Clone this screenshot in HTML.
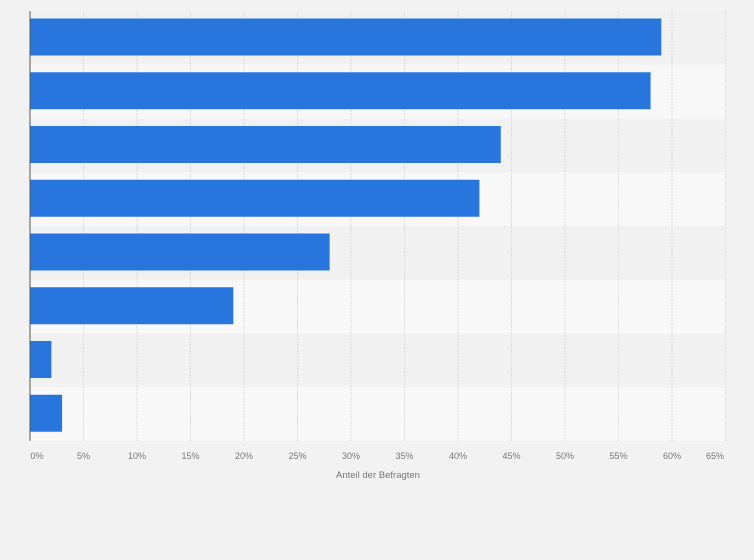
<!DOCTYPE html>
<html><head><meta charset="utf-8"><style>
html,body{margin:0;padding:0;background:#f2f2f2;}
svg{display:block;font-family:"Liberation Sans",sans-serif;}
</style></head><body>
<svg id="chart" width="754" height="560" viewBox="0 0 754 560" xmlns="http://www.w3.org/2000/svg">
<rect x="0" y="0" width="754" height="560" fill="#f2f2f2"/>
<g id="bands"></g><g id="grid"></g><g id="bars"></g><g id="ticks"></g>
<line x1="30" y1="11" x2="30" y2="441" stroke="#555" stroke-width="1"/>
<text x="378" y="478" font-size="9.5" fill="#777" text-anchor="middle">Anteil der Befragten</text>
</svg>
<script>
const categories = ["c1","c2","c3","c4","c5","c6","c7","c8"];
const values = [59, 58, 44, 42, 28, 19, 2, 3];
const tickValues = [0,5,10,15,20,25,30,35,40,45,50,55,60,65];
const tickLabels = ["0%","5%","10%","15%","20%","25%","30%","35%","40%","45%","50%","55%","60%","65%"];
const NS="http://www.w3.org/2000/svg";
const x0=30, pxPer=10.7, plotTop=11, rowH=53.75, barH=37, barOff=7.5;
const xs=v=>x0+v*pxPer;
const ys=i=>plotTop+i*rowH;
function mk(tag,attrs,parent){const e=document.createElementNS(NS,tag);for(const k in attrs)e.setAttribute(k,attrs[k]);document.getElementById(parent).appendChild(e);return e;}
categories.forEach((c,i)=>{
  const b=mk('rect',{x:30,y:ys(i),width:xs(65)-30,height:rowH,fill:i%2?'#f8f8f8':'#f1f1f1'},'bands');
  
  
});
tickValues.forEach((t,i)=>{
  if(t>0){
    const g=mk('line',{x1:xs(t),y1:plotTop,x2:xs(t),y2:441,stroke:'#dcdcdc','stroke-width':1,'stroke-dasharray':'2,1'},'grid');
    
    
  }
  let cx=xs(t); if(t===0) cx=37; if(t===65) cx=715;
  const l=mk('text',{x:cx,y:459,'font-size':9,fill:'#777','text-anchor':'middle'},'ticks');
  l.textContent=tickLabels[i];
  
  
});
values.forEach((v,i)=>{
  const r=mk('rect',{x:30,y:ys(i)+barOff,width:xs(v)-30,height:barH,fill:'#2876dd'},'bars');
  
  
});
</script>
</body></html>
